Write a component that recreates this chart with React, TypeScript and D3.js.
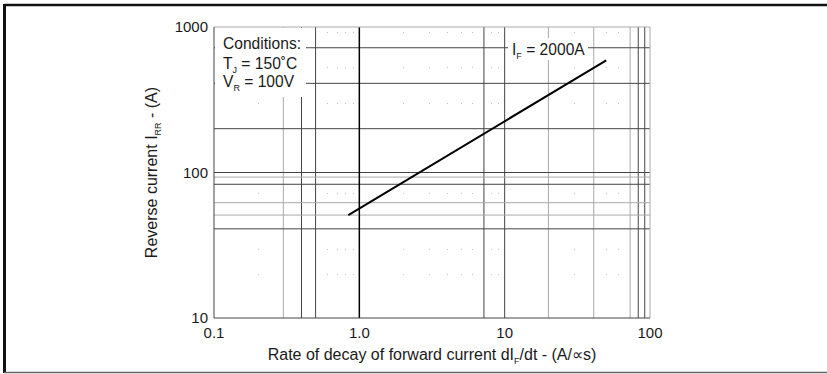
import React from 'react'
import * as d3 from 'd3'

// values
const xTicks = [0.1, 1, 10, 100]
const xTickLabels = ['0.1', '1.0', '10', '100']
const yTicks = [10, 100, 1000]
const yTickLabels = ['10', '100', '1000']

// irregular scanned grid: [value, dark?]
const vGrid: [number, boolean][] = [
  [0.3, false], [0.4, true], [0.5, true], [7.2, true], [10, true],
  [20, false], [41, false], [73, false], [83, true], [92, true],
]
const hGrid: [number, boolean][] = [
  [720, true], [410, true], [200, true], [100, true], [93, false],
  [83, true], [62, false], [51, false], [41, true],
]
const dotCols = [0.2, 0.6, 0.7, 0.8, 0.9, 2, 3, 4, 5, 6, 8, 9, 30, 50, 60]
const dotRows = [20, 30, 72, 300, 530, 930]

const curveX = [0.84, 50]
const curveY = [51, 590]

const W = 827
const H = 374
const margin = { left: 214, right: 177, top: 27, bottom: 56 }
const font = '"Liberation Sans", Arial, Helvetica, sans-serif'

export default function App() {
  const x = d3.scaleLog().domain([0.1, 100]).range([margin.left, W - margin.right])
  const y = d3.scaleLog().domain([10, 1000]).range([H - margin.bottom, margin.top])
  const [x0, x1] = x.range()
  const [y0, y1] = y.range()

  const line = d3.line<number>()
    .x((d, i) => x(curveX[i]))
    .y((d) => y(d))

  const dots: [number, number][] = []
  dotCols.forEach((c) => dotRows.forEach((r) => dots.push([x(c), y(r)])))

  return (
    <svg width={W} height={H} style={{ position: 'absolute', left: 0, top: 0, background: '#fff' }}
      fontFamily={font} fontSize={15} fill="#1a1a1a">
      {/* outer frame */}
      <line x1={4.5} x2={W} y1={5} y2={5} stroke="#111" strokeWidth={2.5} />
      <line x1={4.5} x2={4.5} y1={4} y2={373} stroke="#111" strokeWidth={3} />
      <line x1={4} x2={W} y1={372.5} y2={372.5} stroke="#666" strokeWidth={1.5} />

      {/* dotted minor grid */}
      {dots.map(([cx, cy], i) => (
        <rect key={'d' + i} x={Math.round(cx)} y={Math.round(cy)} width={1} height={1} fill="#c4c4c4" />
      ))}

      {/* grid */}
      {vGrid.map(([v, dark], i) => (
        <line key={'v' + i} x1={x(v)} x2={x(v)} y1={y1} y2={y0}
          stroke={dark ? '#444' : '#aaa'} strokeWidth={1} />
      ))}
      {hGrid.map(([v, dark], i) => (
        <line key={'h' + i} x1={x0} x2={x1} y1={y(v)} y2={y(v)}
          stroke={dark ? '#444' : '#aaa'} strokeWidth={1} />
      ))}
      <line x1={x(1)} x2={x(1)} y1={y1} y2={y0} stroke="#000" strokeWidth={1.5} />

      {/* plot border */}
      <line x1={x0} x2={x1} y1={y1} y2={y1} stroke="#aaa" />
      <line x1={x1} x2={x1} y1={y1} y2={y0} stroke="#aaa" />
      <line x1={x0} x2={x0} y1={y1} y2={y0} stroke="#444" />
      <line x1={x0} x2={x1} y1={y0} y2={y0} stroke="#444" />

      {/* annotation boxes */}
      <rect x={x0 + 1} y={y1 + 1} width={91} height={69} fill="#fff" />
      <rect x={508} y={38} width={80} height={22} fill="#fff" />

      <g fontSize={15.6}>
        <text x={223} y={49}>Conditions:</text>
        <text x={223} y={69}>T<tspan fontSize={9} dy={4}>J</tspan><tspan dy={-4}> = 150˚C</tspan></text>
        <text x={223} y={87}>V<tspan fontSize={9} dy={4}>R</tspan><tspan dy={-4}> = 100V</tspan></text>
        <text x={512} y={55}>I<tspan fontSize={9} dy={4}>F</tspan><tspan dy={-4}> = 2000A</tspan></text>
      </g>

      {/* curve */}
      <path d={line(curveY) || ''} fill="none" stroke="#000" strokeWidth={2} />

      {/* tick labels */}
      {xTicks.map((t, i) => (
        <text key={'xt' + i} x={x(t)} y={338} textAnchor="middle">{xTickLabels[i]}</text>
      ))}
      {yTicks.map((t, i) => (
        <text key={'yt' + i} x={208} y={y(t) + 5} textAnchor="end">{yTickLabels[i]}</text>
      ))}

      {/* axis titles */}
      <g fontSize={16}>
        <text x={(x0 + x1) / 2} y={360} textAnchor="middle">
          Rate of decay of forward current dI<tspan fontSize={9} dy={4}>F</tspan><tspan dy={-4}>/dt - (A/∝s)</tspan>
        </text>
        <text transform={`translate(157,${(y0 + y1) / 2}) rotate(-90)`} textAnchor="middle">
          Reverse current I<tspan fontSize={9} dy={4}>RR</tspan><tspan dy={-4}> - (A)</tspan>
        </text>
      </g>
    </svg>
  )
}
